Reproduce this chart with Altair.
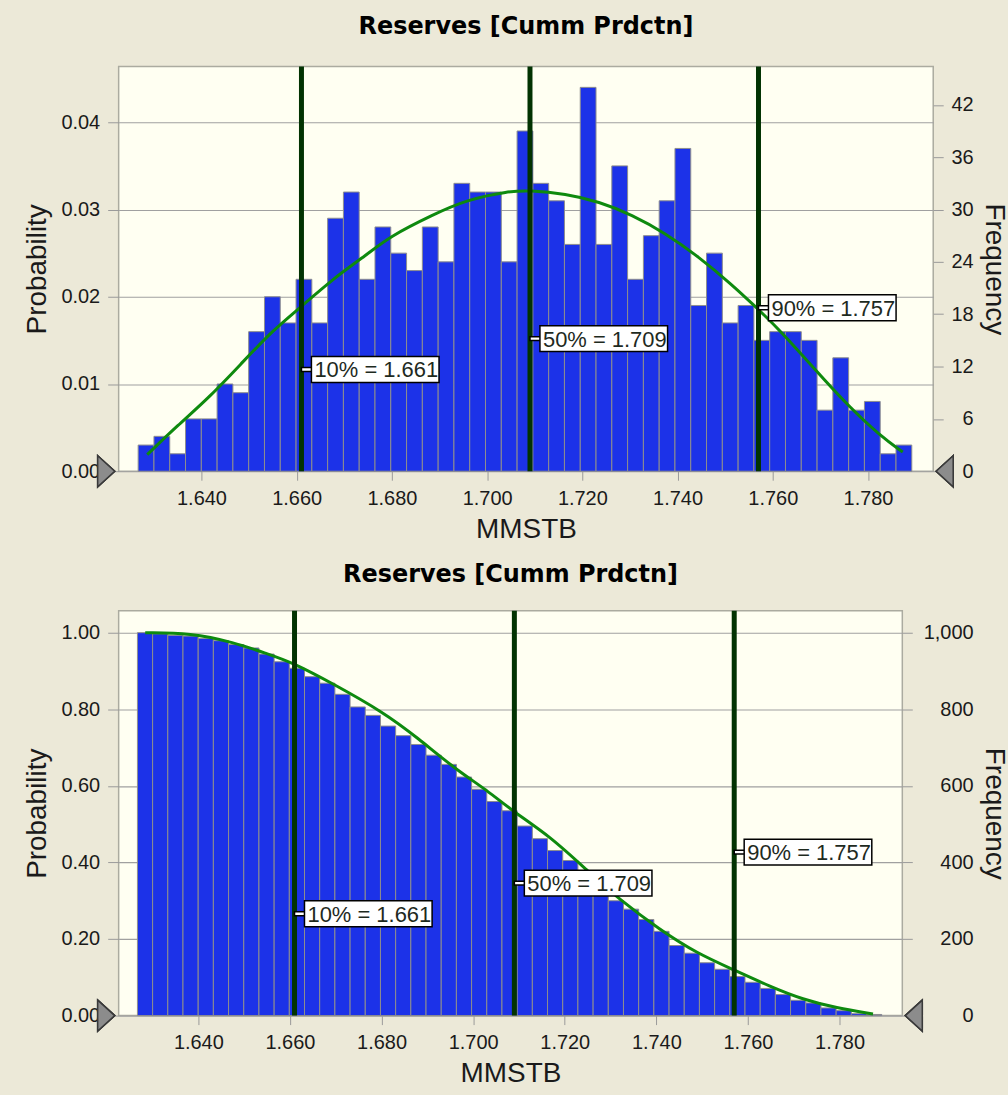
import altair as alt
import pandas as pd

# ---------------- data ----------------
# histogram (49 bins), frequency counts per bin
bin_lo = 1.6267
bin_w = 0.0033163
counts = [3, 4, 2, 6, 6, 10, 9, 16, 20, 17, 22, 17, 29, 32, 22, 28, 25, 23, 28, 24,
          33, 32, 32, 24, 39, 33, 31, 26, 44, 26, 35, 22, 27, 31, 37, 19, 25, 17, 19, 15,
          16, 16, 15, 7, 13, 7, 8, 2, 3]
total_trials = 1000
# cumulative (greater-than) probability per bin, bottom chart
cum_prob = [1.000, 0.997, 0.993, 0.991, 0.985, 0.979, 0.969, 0.960, 0.944, 0.924,
            0.907, 0.885, 0.868, 0.839, 0.806, 0.784, 0.756, 0.731, 0.708, 0.680,
            0.656, 0.623, 0.591, 0.559, 0.535, 0.495, 0.462, 0.431, 0.405, 0.361,
            0.335, 0.300, 0.278, 0.251, 0.220, 0.183, 0.163, 0.138, 0.121, 0.102,
            0.087, 0.071, 0.055, 0.040, 0.033, 0.020, 0.013, 0.005, 0.003]

# fitted density curve (top)
fit_x = [1.6286, 1.6349, 1.6419, 1.6488, 1.6551, 1.6604, 1.6677, 1.6747, 1.6795, 1.6886,
         1.6956, 1.7046, 1.7088, 1.7165, 1.7235, 1.7304, 1.7374, 1.7444, 1.7514, 1.7563,
         1.7618, 1.7688, 1.7758, 1.7827, 1.7873]
fit_p = [0.0019, 0.0052, 0.0086, 0.0126, 0.0162, 0.0186, 0.0221, 0.0248, 0.0269, 0.0294,
         0.0311, 0.0321, 0.0322, 0.0318, 0.0309, 0.0294, 0.0273, 0.0246, 0.0214, 0.0189,
         0.0160, 0.0117, 0.0075, 0.0040, 0.0022]

# fitted cumulative curve (bottom)
cfit_x = [1.6284, 1.6383, 1.6477, 1.6550, 1.6604, 1.6695, 1.6804, 1.6877, 1.6964, 1.7030,
          1.7088, 1.7168, 1.7248, 1.7320, 1.7408, 1.7488, 1.7568, 1.7648, 1.7720, 1.7793,
          1.7873]
cfit_p = [1.000, 0.999, 0.975, 0.945, 0.923, 0.866, 0.792, 0.727, 0.641, 0.589,
          0.532, 0.468, 0.380, 0.302, 0.224, 0.163, 0.120, 0.076, 0.042, 0.020,
          0.004]

# percentiles
pct_vals = [1.661, 1.709, 1.757]
pct_text = ["10% = 1.661", "50% = 1.709", "90% = 1.757"]
lab_y_top = [0.01166, 0.0152, 0.01874]
lab_y_bot = [0.266, 0.346, 0.427]

x_ticks = [1.64, 1.66, 1.68, 1.70, 1.72, 1.74, 1.76, 1.78]
x_dom = [1.6226, 1.7937]

# ---------------- tables ----------------
n = len(counts)
bars = pd.DataFrame({
    "lo": [bin_lo + i * bin_w for i in range(n)],
    "hi": [bin_lo + (i + 1) * bin_w for i in range(n)],
    "cnt": counts,
    "p": [c / total_trials for c in counts],
    "cp": cum_prob,
    "cc": [v * total_trials for v in cum_prob],
})
fit = pd.DataFrame({"x": fit_x, "p": fit_p})
cfit = pd.DataFrame({"x": cfit_x, "p": cfit_p})
pct_top = pd.DataFrame({"x": pct_vals, "y": lab_y_top, "t": pct_text})
pct_bot = pd.DataFrame({"x": pct_vals, "y": lab_y_bot, "t": pct_text})

BLUE = "#1C32E8"
GREEN = "#0E8A0E"
DKGREEN = "#023302"
TXT = "#1a1a1a"
LABFONT = "Liberation Sans"

BOX = "M0.156,-0.203H2.156V0.203H0.156ZM0,-0.03H0.156V0.03H0Z"
TRI_R = "M-0.55,-1L0.55,0L-0.55,1Z"
TRI_L = "M0.55,-1L-0.55,0L0.55,1Z"


def panel(ycol, y_dom, y_ticks, y_fmt, rcol, r_dom, r_ticks, r_fmt, curve, labs,
          width, height, r_label_pad, r_title_x, title_offset):
    xs = alt.Scale(domain=x_dom, nice=False, zero=False)
    ys = alt.Scale(domain=y_dom, nice=False, zero=False)
    rs = alt.Scale(domain=r_dom, nice=False, zero=False)
    xaxis = alt.Axis(values=x_ticks, format=".3f", title="MMSTB", grid=False,
                     tickSize=9, labelPadding=8, titleY=66, titleBaseline="alphabetic",
                     labelFlush=False)
    yaxis = alt.Axis(values=y_ticks, format=y_fmt, title="Probability", grid=True,
                     tickSize=11, labelPadding=8, titleAngle=270, titleX=-73,
                     titleY=height / 2, titleBaseline="alphabetic", titleAlign="center")
    raxis = alt.Axis(values=r_ticks, format=r_fmt, title="Frequency", orient="right",
                     grid=False, tickSize=10, labelAlign="right", labelPadding=r_label_pad,
                     titleAngle=90, titleX=r_title_x, titleY=height / 2,
                     titleBaseline="alphabetic", titleAlign="center")

    X = lambda f: alt.X(f, scale=xs, axis=xaxis)
    Y = lambda f: alt.Y(f, scale=ys, axis=yaxis)

    base = alt.Chart(bars)
    hist = base.mark_bar(color=BLUE, stroke="#8E8E8E", strokeWidth=1, opacity=1).encode(
        x=X("lo:Q"), x2="hi:Q", y=Y(f"{ycol}:Q"), y2=alt.datum(0),
    )
    line = alt.Chart(curve).mark_line(color=GREEN, strokeWidth=3, interpolate="basis").encode(
        x=X("x:Q"), y=Y("p:Q"),
    )
    rules = alt.Chart(labs).mark_rule(color=DKGREEN, strokeWidth=5).encode(x=X("x:Q"))
    boxes = alt.Chart(labs).mark_point(shape=BOX, size=16384, filled=True, fill="white",
                                       stroke="black", strokeWidth=1.5, opacity=1).encode(
        x=X("x:Q"), y=Y("y:Q"),
    )
    texts = alt.Chart(labs).mark_text(align="left", baseline="middle", dx=13, dy=1,
                                      font=LABFONT, fontSize=22, color="#1E2A1E").encode(
        x=X("x:Q"), y=Y("y:Q"), text="t:N",
    )
    tri_l = alt.Chart(labs).mark_point(shape=TRI_R, size=961, filled=True, fill="#8C8C8C",
                                       stroke="#3A3A3A", strokeWidth=1.5, opacity=1,
                                       xOffset=-12.5).encode(
        x=alt.datum(x_dom[0], scale=xs, axis=xaxis), y=alt.datum(0, scale=ys, axis=yaxis))
    tri_r = alt.Chart(labs).mark_point(shape=TRI_L, size=961, filled=True, fill="#8C8C8C",
                                       stroke="#3A3A3A", strokeWidth=1.5, opacity=1,
                                       xOffset=11.5).encode(
        x=alt.datum(x_dom[1], scale=xs, axis=xaxis), y=alt.datum(0, scale=ys, axis=yaxis))

    left = alt.layer(hist, line, rules, boxes, texts, tri_l, tri_r)
    right = base.mark_bar(opacity=0).encode(
        x=X("lo:Q"), x2="hi:Q",
        y=alt.Y(f"{rcol}:Q", scale=rs, axis=raxis), y2=alt.datum(0),
    )
    return alt.layer(left, right).resolve_scale(y="independent").properties(
        width=width, height=height,
        title=alt.TitleParams("Reserves [Cumm Prdctn]", font="DejaVu Sans", fontSize=24,
                              fontWeight="bold", color="black", anchor="middle",
                              frame="group", baseline="alphabetic", offset=title_offset),
    )


top = panel("p", [0, 0.0464], [0, 0.01, 0.02, 0.03, 0.04], ".2f",
            "cnt", [0, 46.4], [0, 6, 12, 18, 24, 30, 36, 42], "d",
            fit, pct_top, 817, 406, 30, 52, 6)
bottom = panel("cp", [0, 1.057], [0, 0.2, 0.4, 0.6, 0.8, 1.0], ".2f",
               "cc", [0, 1057], [0, 200, 400, 600, 800, 1000], ",d",
               cfit, pct_bot, 786, 406, 61, 83, 2)

chart = alt.vconcat(top, bottom, spacing=18).properties(
    background="#ECE9D8",
    padding={"left": 23, "top": 12, "right": 0, "bottom": 8},
).configure_view(
    fill="#FFFFF2", stroke="#ABABA0", strokeWidth=1.5,
).configure_axis(
    labelFont="Liberation Sans", labelFontSize=20, labelColor=TXT,
    titleFont="Liberation Sans", titleFontSize=28, titleFontWeight="normal", titleColor=TXT,
    tickColor="#9A9A9A", gridColor="#A0A0A0", gridWidth=1.2, domain=False,
)

chart.save("out.html", embed_options={"renderer": "svg", "actions": False})
